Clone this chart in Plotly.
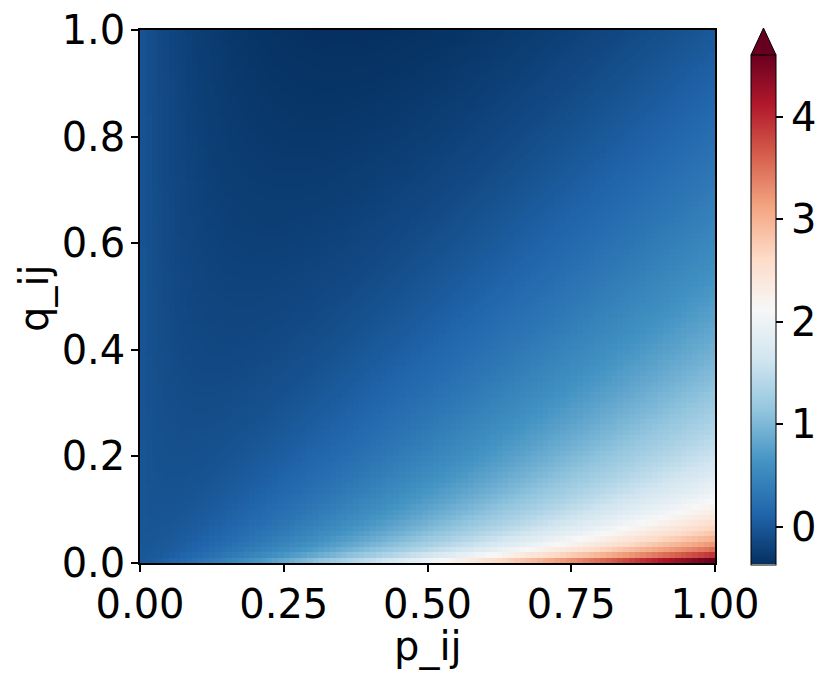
import numpy as np
import plotly.graph_objects as go

# Grid of p_ij and q_ij values (cell upper edges, 100 x 100 cells)
p_vals = [k / 100 for k in range(1, 101)]
q_vals = [k / 100 for k in range(1, 101)]
x_ticks = [0.0, 0.25, 0.5, 0.75, 1.0]
x_ticklabels = ["0.00", "0.25", "0.50", "0.75", "1.00"]
y_ticks = [0.0, 0.2, 0.4, 0.6, 0.8, 1.0]
y_ticklabels = ["0.0", "0.2", "0.4", "0.6", "0.8", "1.0"]
cb_ticks = [0, 1, 2, 3, 4]
x_title = "p_ij"
y_title = "q_ij"

P, Q = np.meshgrid(np.array(p_vals), np.array(q_vals))
Z = P * np.log(P / Q)  # KL term p*log(p/q)

# cell edges
x_edges = [0.0] + p_vals
y_edges = [0.0] + q_vals

rdbu_r = ['rgb(5,48,97)', 'rgb(33,102,172)', 'rgb(67,147,195)', 'rgb(146,197,222)',
          'rgb(209,229,240)', 'rgb(247,247,247)', 'rgb(253,219,199)', 'rgb(244,165,130)',
          'rgb(214,96,77)', 'rgb(178,24,43)', 'rgb(103,0,31)']
cs = [[i / 10, c] for i, c in enumerate(rdbu_r)]

zmin = float(Z.min())
zmax = float(Z.max())

FONT = "DejaVu Sans"
OFF = 8  # page body margin in the browser
W, H = 831 - OFF, 680 - OFF
# plot area in page pixels
PX0, PX1, PY0, PY1 = 140, 715, 30, 563
L, R, T, B = PX0 - OFF, W - (PX1 - OFF), PY0 - OFF, H - (PY1 - OFF)
pw = PX1 - PX0
ph = PY1 - PY0

def px_x(x):
    return (x - PX0) / pw

def px_y(y):
    return (PY1 - y) / ph

cb_left, cb_right = 751, 776
cb_top, cb_bot = 55, 564.5

fig = go.Figure(go.Heatmap(
    z=Z, x=x_edges, y=y_edges, colorscale=cs, zmin=zmin, zmax=zmax,
    colorbar=dict(
        x=px_x(cb_left), xanchor="left", xpad=0, ypad=0,
        y=px_y(cb_bot), yanchor="bottom",
        len=cb_bot - cb_top, lenmode="pixels",
        thickness=cb_right - cb_left, thicknessmode="pixels",
        outlinewidth=1, outlinecolor="black",
        tickvals=cb_ticks, ticks="outside", ticklen=7, tickwidth=1.5, tickcolor="black",
        tickfont=dict(family=FONT, size=40, color="black"),
    ),
))

# extend-max arrow on the colorbar
ax0, ax1 = px_x(cb_left), px_x(cb_right)
axm = (ax0 + ax1) / 2
ay0, ay1 = px_y(cb_top), px_y(28)
fig.add_shape(type="path", xref="paper", yref="paper",
              path=f"M {ax0} {ay0} L {axm} {ay1} L {ax1} {ay0} Z",
              fillcolor="rgb(103,0,31)", line=dict(color="black", width=1))

fig.add_annotation(text=x_title, xref="paper", yref="paper",
                   x=0.5, y=px_y(646), xanchor="center", yanchor="middle",
                   showarrow=False, borderpad=0,
                   font=dict(family=FONT, size=40, color="black"))
fig.add_annotation(text=y_title, xref="paper", yref="paper", textangle=-90,
                   x=px_x(34), y=px_y(298), xanchor="center", yanchor="middle",
                   showarrow=False, borderpad=0,
                   font=dict(family=FONT, size=40, color="black"))

fig.update_layout(
    width=W, height=H,
    margin=dict(l=L, r=R, t=T, b=B, autoexpand=False),
    plot_bgcolor="white", paper_bgcolor="white",
    font=dict(family=FONT, size=40, color="black"),
    xaxis=dict(range=[0, 1], tickvals=x_ticks, ticktext=x_ticklabels,
               ticks="outside", ticklen=7, tickwidth=1.5, tickcolor="black",
               showline=True, linecolor="black", linewidth=1.5, mirror=True,
               showgrid=False, zeroline=False, automargin=False,
               ticklabelstandoff=-2, ticklabeloverflow="allow",
               tickfont=dict(family=FONT, size=40)),
    yaxis=dict(range=[0, 1], tickvals=y_ticks, ticktext=y_ticklabels,
               ticks="outside", ticklen=7, tickwidth=1.5, tickcolor="black",
               showline=True, linecolor="black", linewidth=1.5, mirror=True,
               showgrid=False, zeroline=False, automargin=False,
               ticklabelstandoff=-2, ticklabeloverflow="allow",
               tickfont=dict(family=FONT, size=40)),
)

fig.write_html("out.html")
